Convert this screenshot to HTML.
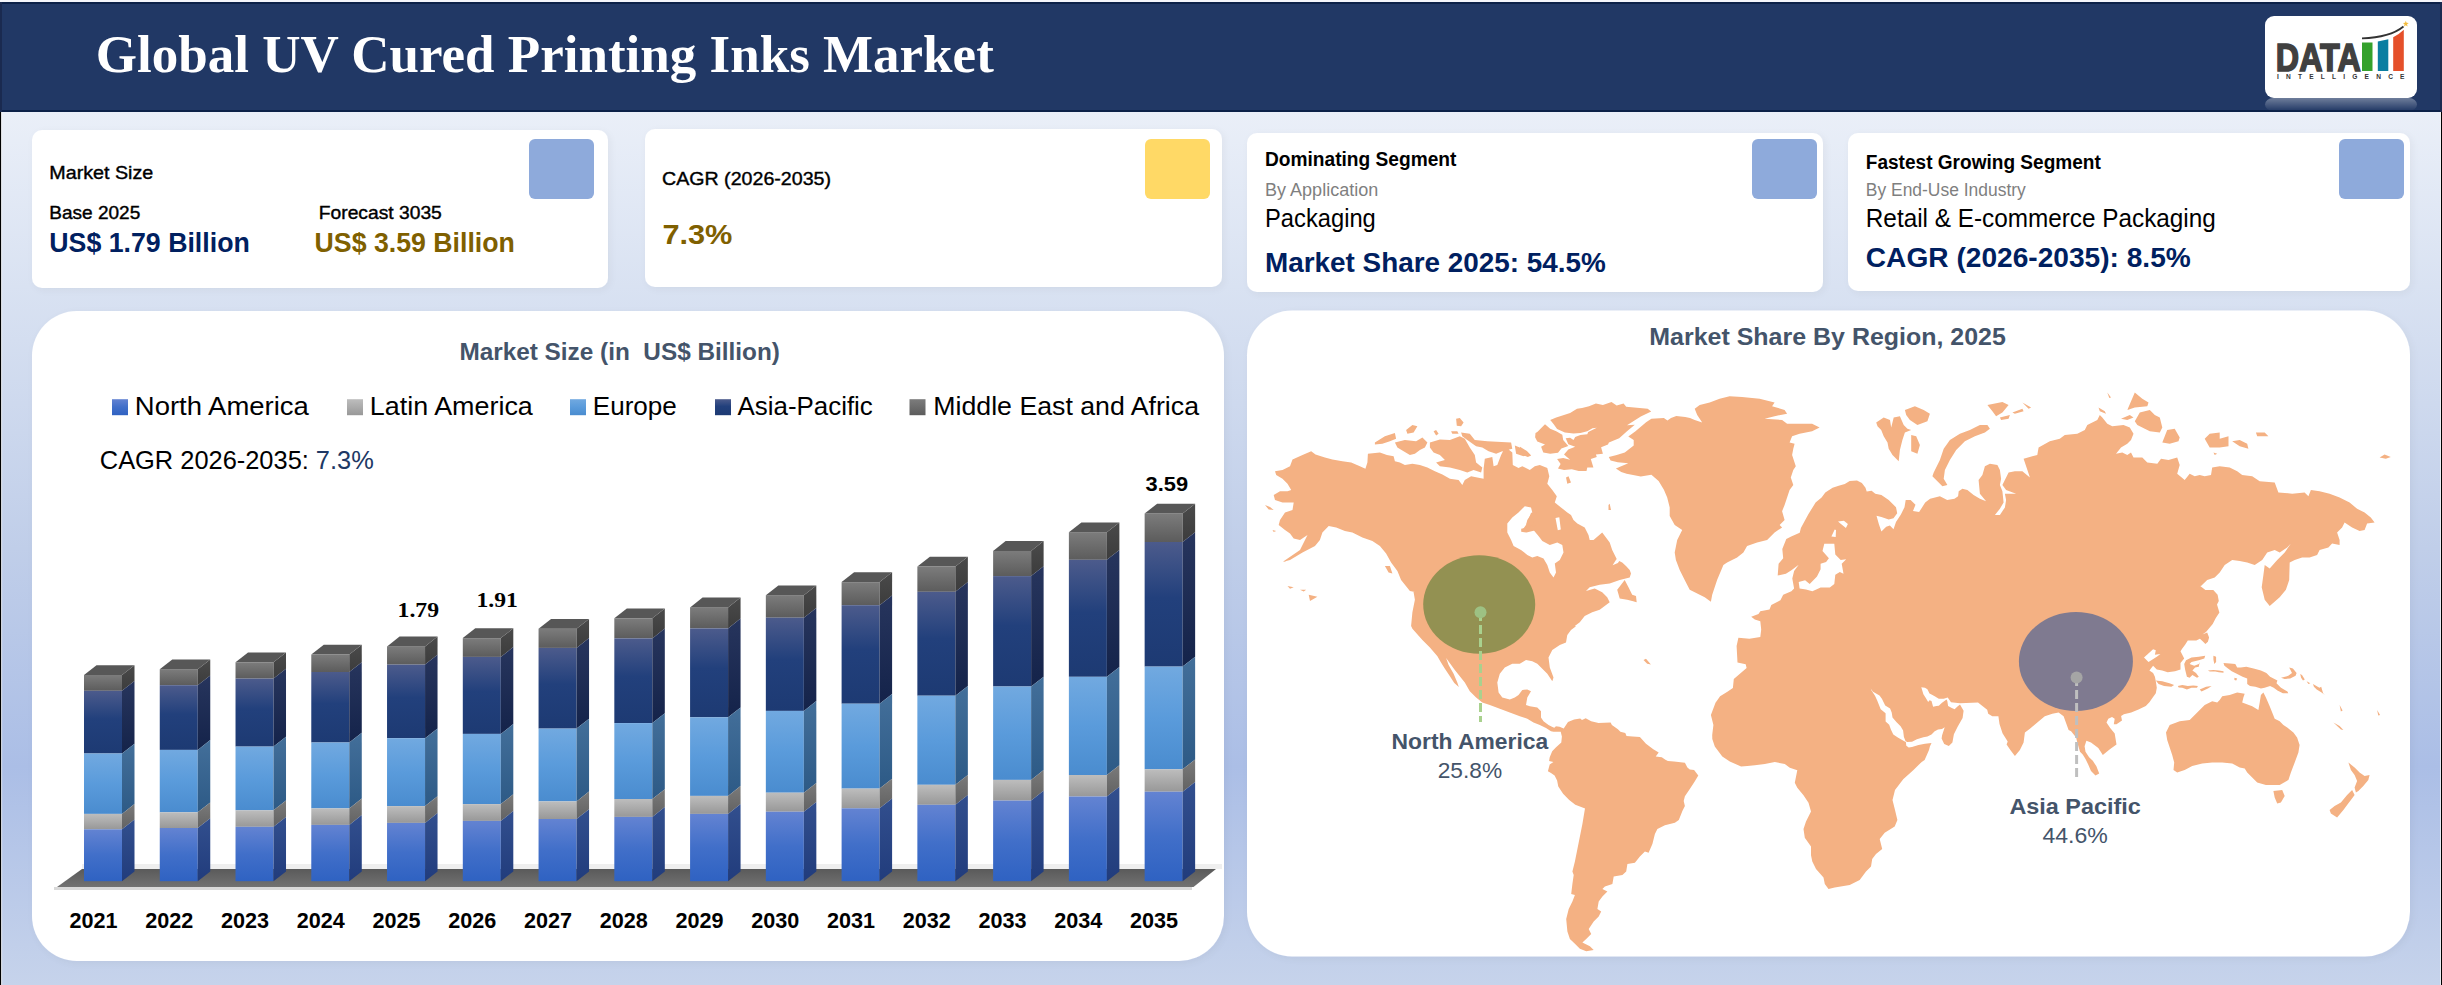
<!DOCTYPE html>
<html><head><meta charset="utf-8"><title>Global UV Cured Printing Inks Market</title>
<style>html,body{margin:0;padding:0;width:2442px;height:985px;overflow:hidden;background:#fff;font-family:"Liberation Sans", sans-serif;}svg{display:block}</style>
</head><body>
<svg width="2442" height="985" viewBox="0 0 2442 985"><defs>
<linearGradient id="bg" gradientUnits="userSpaceOnUse" x1="0" y1="112" x2="0" y2="985">
  <stop offset="0" stop-color="#eaeff8"/>
  <stop offset="0.2" stop-color="#d9e2f2"/>
  <stop offset="0.5" stop-color="#c0cee9"/>
  <stop offset="0.75" stop-color="#abbee6"/>
  <stop offset="1" stop-color="#c6d3eb"/>
</linearGradient>
<filter id="sh" x="-5%" y="-5%" width="110%" height="115%">
  <feGaussianBlur in="SourceAlpha" stdDeviation="4"/>
  <feOffset dx="2" dy="2" result="b"/>
  <feComponentTransfer><feFuncA type="linear" slope="0.05"/></feComponentTransfer>
  <feMerge><feMergeNode/><feMergeNode in="SourceGraphic"/></feMerge>
</filter>
<linearGradient id="refl" x1="0" y1="0" x2="0" y2="1">
  <stop offset="0" stop-color="#ffffff" stop-opacity="0.35"/>
  <stop offset="1" stop-color="#ffffff" stop-opacity="0"/>
</linearGradient>
<linearGradient id="gNA" x1="0" y1="0" x2="0" y2="1"><stop offset="0" stop-color="#6383d2"/><stop offset="0.5" stop-color="#416fc9"/><stop offset="1" stop-color="#2f62c2"/></linearGradient>
<linearGradient id="gLA" x1="0" y1="0" x2="0" y2="1"><stop offset="0" stop-color="#bdbdbd"/><stop offset="1" stop-color="#989898"/></linearGradient>
<linearGradient id="gEU" x1="0" y1="0" x2="0" y2="1"><stop offset="0" stop-color="#71a9e0"/><stop offset="0.5" stop-color="#5a9bdb"/><stop offset="1" stop-color="#4a8ccf"/></linearGradient>
<linearGradient id="gAP" x1="0" y1="0" x2="0" y2="1"><stop offset="0" stop-color="#4c5b8c"/><stop offset="0.45" stop-color="#22407c"/><stop offset="1" stop-color="#1d3a73"/></linearGradient>
<linearGradient id="gME" x1="0" y1="0" x2="0" y2="1"><stop offset="0" stop-color="#7c7c7c"/><stop offset="1" stop-color="#5c5c5c"/></linearGradient>
<linearGradient id="sNA" x1="0" y1="0" x2="0" y2="1"><stop offset="0" stop-color="#324f8e"/><stop offset="1" stop-color="#213c7c"/></linearGradient>
<linearGradient id="sLA" x1="0" y1="0" x2="0" y2="1"><stop offset="0" stop-color="#7a7a7a"/><stop offset="1" stop-color="#626262"/></linearGradient>
<linearGradient id="sEU" x1="0" y1="0" x2="0" y2="1"><stop offset="0" stop-color="#436f9a"/><stop offset="1" stop-color="#2d5a86"/></linearGradient>
<linearGradient id="sAP" x1="0" y1="0" x2="0" y2="1"><stop offset="0" stop-color="#27355d"/><stop offset="1" stop-color="#14234a"/></linearGradient>
<linearGradient id="sME" x1="0" y1="0" x2="0" y2="1"><stop offset="0" stop-color="#4a4a4a"/><stop offset="1" stop-color="#3c3c3c"/></linearGradient>
<linearGradient id="floor" x1="0" y1="0" x2="0" y2="1"><stop offset="0" stop-color="#5a5a5a"/><stop offset="1" stop-color="#727272"/></linearGradient>
</defs>
<rect x="0" y="0" width="2442" height="985" fill="url(#bg)"/>
<rect x="0" y="112" width="1.3" height="873" fill="#000"/>
<rect x="1.3" y="112" width="0.8" height="873" fill="#fff" opacity="0.9"/>
<rect x="2440.9" y="112" width="1.1" height="873" fill="#000"/>
<rect x="2440.1" y="112" width="0.8" height="873" fill="#fff" opacity="0.9"/>
<rect x="0" y="0" width="2442" height="2" fill="#f4f5fa"/>
<rect x="0" y="2" width="2442" height="110" fill="#213865"/>
<rect x="0" y="2" width="2442" height="2" fill="#0c2148"/>
<rect x="0" y="110" width="2442" height="2" fill="#0c2148"/>
<rect x="0" y="2" width="2" height="110" fill="#1a2a50"/>
<rect x="2440" y="2" width="2" height="110" fill="#1a2a50"/>
<text x="95.8" y="72" font-family='"Liberation Serif", serif' font-size="53" font-weight="bold" fill="#ffffff" textLength="898.0" lengthAdjust="spacingAndGlyphs">Global UV Cured Printing Inks Market</text>
<rect x="2265" y="98" width="152" height="13" rx="8" fill="url(#refl)"/>
<rect x="2265" y="16" width="152" height="82" rx="9" fill="#ffffff"/>
<text x="2275.8" y="70.8" font-family='"Liberation Sans", sans-serif' font-size="39.5" font-weight="bold" fill="#404040" textLength="85.0" lengthAdjust="spacingAndGlyphs" stroke="#404040" stroke-width="1.6">DATA</text>
<rect x="2362" y="42.5" width="10.5" height="28.5" fill="#34a12c"/>
<path d="M2377.8 41.5 L2388.3 39.2 L2388.3 71 L2377.8 71Z" fill="#0a7ea1"/>
<path d="M2393.2 37.2 Q2399 34.5 2403.8 29.8 L2403.8 71 L2393.2 71Z" fill="#e5502a"/>
<path d="M2362 38.3 Q2390 37.5 2403.5 26.5" stroke="#333" stroke-width="1.8" fill="none"/>
<polygon points="2405.80,20.80 2406.56,22.85 2408.75,22.94 2407.04,24.30 2407.62,26.41 2405.80,25.20 2403.98,26.41 2404.56,24.30 2402.85,22.94 2405.04,22.85" fill="#f4bc3c"/>
<text x="2277" y="79.2" font-family='"Liberation Sans", sans-serif' font-size="6.6" font-weight="bold" fill="#333" textLength="127.5" lengthAdjust="spacing">INTELLIGENCE</text>
<rect x="32" y="130" width="576" height="158" rx="10" fill="#ffffff" filter="url(#sh)"/>
<rect x="645" y="129" width="577" height="158" rx="10" fill="#ffffff" filter="url(#sh)"/>
<rect x="1247" y="133" width="576" height="159" rx="10" fill="#ffffff" filter="url(#sh)"/>
<rect x="1848" y="133" width="562" height="158" rx="10" fill="#ffffff" filter="url(#sh)"/>
<rect x="529" y="139" width="65" height="60" rx="6" fill="#8eaadb"/>
<rect x="1145" y="139" width="65" height="60" rx="6" fill="#ffd966"/>
<rect x="1752" y="139" width="65" height="60" rx="6" fill="#8eaadb"/>
<rect x="2339" y="139" width="65" height="60" rx="6" fill="#8eaadb"/>
<text x="49.3" y="178.6" font-family='"Liberation Sans", sans-serif' font-size="18.5" font-weight="normal" fill="#000" textLength="104.0" lengthAdjust="spacingAndGlyphs" stroke="#000" stroke-width="0.4">Market Size</text>
<text x="49.3" y="219.2" font-family='"Liberation Sans", sans-serif' font-size="18.5" font-weight="normal" fill="#000" textLength="91.0" lengthAdjust="spacingAndGlyphs" stroke="#000" stroke-width="0.4">Base 2025</text>
<text x="318.8" y="219.2" font-family='"Liberation Sans", sans-serif' font-size="18.5" font-weight="normal" fill="#000" textLength="123.0" lengthAdjust="spacingAndGlyphs" stroke="#000" stroke-width="0.4">Forecast 3035</text>
<text x="49.3" y="252" font-family='"Liberation Sans", sans-serif' font-size="27" font-weight="bold" fill="#002060" textLength="200.5" lengthAdjust="spacingAndGlyphs">US$ 1.79 Billion</text>
<text x="314.6" y="252" font-family='"Liberation Sans", sans-serif' font-size="27" font-weight="bold" fill="#7f6000" textLength="200.3" lengthAdjust="spacingAndGlyphs">US$ 3.59 Billion</text>
<text x="662.0" y="184.9" font-family='"Liberation Sans", sans-serif' font-size="19" font-weight="normal" fill="#000" textLength="169.0" lengthAdjust="spacingAndGlyphs" stroke="#000" stroke-width="0.4">CAGR (2026-2035)</text>
<text x="662.4" y="244" font-family='"Liberation Sans", sans-serif' font-size="27" font-weight="bold" fill="#7f6000" textLength="70.0" lengthAdjust="spacingAndGlyphs">7.3%</text>
<text x="1265.0" y="166.2" font-family='"Liberation Sans", sans-serif' font-size="20" font-weight="bold" fill="#000" textLength="191.4" lengthAdjust="spacingAndGlyphs">Dominating Segment</text>
<text x="1265.0" y="196.2" font-family='"Liberation Sans", sans-serif' font-size="17.5" font-weight="normal" fill="#7f7f7f" textLength="113.3" lengthAdjust="spacingAndGlyphs">By Application</text>
<text x="1265.0" y="227" font-family='"Liberation Sans", sans-serif' font-size="26" font-weight="normal" fill="#000" textLength="110.8" lengthAdjust="spacingAndGlyphs">Packaging</text>
<text x="1265.0" y="272" font-family='"Liberation Sans", sans-serif' font-size="27" font-weight="bold" fill="#002060" textLength="340.8" lengthAdjust="spacingAndGlyphs">Market Share 2025: 54.5%</text>
<text x="1865.8" y="169.2" font-family='"Liberation Sans", sans-serif' font-size="20" font-weight="bold" fill="#000" textLength="235.0" lengthAdjust="spacingAndGlyphs">Fastest Growing Segment</text>
<text x="1865.8" y="196.2" font-family='"Liberation Sans", sans-serif' font-size="17.5" font-weight="normal" fill="#7f7f7f" textLength="160.0" lengthAdjust="spacingAndGlyphs">By End-Use Industry</text>
<text x="1865.8" y="227" font-family='"Liberation Sans", sans-serif' font-size="26" font-weight="normal" fill="#000" textLength="350.0" lengthAdjust="spacingAndGlyphs">Retail &amp; E-commerce Packaging</text>
<text x="1865.8" y="267" font-family='"Liberation Sans", sans-serif' font-size="27" font-weight="bold" fill="#002060" textLength="325.0" lengthAdjust="spacingAndGlyphs">CAGR (2026-2035): 8.5%</text>
<rect x="32" y="311" width="1192" height="650" rx="45" fill="#ffffff" filter="url(#sh)"/>
<text x="459.4" y="359.9" font-family='"Liberation Sans", sans-serif' font-size="24.3" font-weight="bold" fill="#44546a" textLength="320.5" lengthAdjust="spacingAndGlyphs" xml:space="preserve">Market Size (in  US$ Billion)</text>
<rect x="112" y="399.2" width="16" height="16" fill="url(#gNA)"/>
<text x="134.8" y="415" font-family='"Liberation Sans", sans-serif' font-size="25" font-weight="normal" fill="#000" textLength="174.0" lengthAdjust="spacingAndGlyphs">North America</text>
<rect x="347" y="399.2" width="16" height="16" fill="url(#gLA)"/>
<text x="369.8" y="415" font-family='"Liberation Sans", sans-serif' font-size="25" font-weight="normal" fill="#000" textLength="163.0" lengthAdjust="spacingAndGlyphs">Latin America</text>
<rect x="570" y="399.2" width="16" height="16" fill="url(#gEU)"/>
<text x="592.8" y="415" font-family='"Liberation Sans", sans-serif' font-size="25" font-weight="normal" fill="#000" textLength="84.0" lengthAdjust="spacingAndGlyphs">Europe</text>
<rect x="715" y="399.2" width="16" height="16" fill="url(#gAP)"/>
<text x="737.5" y="415" font-family='"Liberation Sans", sans-serif' font-size="25" font-weight="normal" fill="#000" textLength="135.3" lengthAdjust="spacingAndGlyphs">Asia-Pacific</text>
<rect x="909.5" y="399.2" width="16" height="16" fill="url(#gME)"/>
<text x="933.3" y="415" font-family='"Liberation Sans", sans-serif' font-size="25" font-weight="normal" fill="#000" textLength="265.7" lengthAdjust="spacingAndGlyphs">Middle East and Africa</text>
<text x="99.8" y="469" font-family='"Liberation Sans", sans-serif' font-size="25" font-weight="normal" fill="#000" textLength="274.0" lengthAdjust="spacingAndGlyphs">CAGR 2026-2035: <tspan fill="#203864">7.3%</tspan></text>
<rect x="82" y="864" width="1140" height="5" fill="#efefef"/>
<path d="M54 887 L1192 887 L1192 890 L54 890Z" fill="#d9d9d9"/>
<path d="M57 887 L82 869 L1216 869 L1193.5 887Z" fill="url(#floor)"/>
<rect x="84.0" y="675" width="38" height="15.8" fill="url(#gME)"/>
<path d="M122.0 675 L134.5 665.2 L134.5 681.0 L122.0 690.8Z" fill="url(#sME)"/>
<rect x="84.0" y="690.8" width="38" height="62.7" fill="url(#gAP)"/>
<path d="M122.0 690.8 L134.5 681.0 L134.5 743.7 L122.0 753.5Z" fill="url(#sAP)"/>
<rect x="84.0" y="753.5" width="38" height="60.4" fill="url(#gEU)"/>
<path d="M122.0 753.5 L134.5 743.7 L134.5 804.1 L122.0 813.9Z" fill="url(#sEU)"/>
<rect x="84.0" y="813.9" width="38" height="15.4" fill="url(#gLA)"/>
<path d="M122.0 813.9 L134.5 804.1 L134.5 819.5 L122.0 829.3Z" fill="url(#sLA)"/>
<rect x="84.0" y="829.3" width="38" height="51.9" fill="url(#gNA)"/>
<path d="M122.0 829.3 L134.5 819.5 L134.5 871.4 L122.0 881.2Z" fill="url(#sNA)"/>
<path d="M84.0 675 L96.5 665.2 L134.5 665.2 L122.0 675Z" fill="#575757"/>
<text x="93.4" y="927.6" font-family='"Liberation Sans", sans-serif' font-size="21.6" font-weight="bold" fill="#000" text-anchor="middle">2021</text>
<rect x="159.76" y="669.2" width="38" height="16.0" fill="url(#gME)"/>
<path d="M197.76 669.2 L210.26 659.4 L210.26 675.4 L197.76 685.2Z" fill="url(#sME)"/>
<rect x="159.76" y="685.2" width="38" height="64.7" fill="url(#gAP)"/>
<path d="M197.76 685.2 L210.26 675.4 L210.26 740.1 L197.76 749.9Z" fill="url(#sAP)"/>
<rect x="159.76" y="749.9" width="38" height="62.4" fill="url(#gEU)"/>
<path d="M197.76 749.9 L210.26 740.1 L210.26 802.5 L197.76 812.3Z" fill="url(#sEU)"/>
<rect x="159.76" y="812.3" width="38" height="15.7" fill="url(#gLA)"/>
<path d="M197.76 812.3 L210.26 802.5 L210.26 818.2 L197.76 828Z" fill="url(#sLA)"/>
<rect x="159.76" y="828" width="38" height="53.2" fill="url(#gNA)"/>
<path d="M197.76 828 L210.26 818.2 L210.26 871.4 L197.76 881.2Z" fill="url(#sNA)"/>
<path d="M159.76 669.2 L172.26 659.4 L210.26 659.4 L197.76 669.2Z" fill="#575757"/>
<text x="169.16" y="927.6" font-family='"Liberation Sans", sans-serif' font-size="21.6" font-weight="bold" fill="#000" text-anchor="middle">2022</text>
<rect x="235.52" y="662.3" width="38" height="16.3" fill="url(#gME)"/>
<path d="M273.52 662.3 L286.02 652.5 L286.02 668.8 L273.52 678.6Z" fill="url(#sME)"/>
<rect x="235.52" y="678.6" width="38" height="68.0" fill="url(#gAP)"/>
<path d="M273.52 678.6 L286.02 668.8 L286.02 736.8 L273.52 746.6Z" fill="url(#sAP)"/>
<rect x="235.52" y="746.6" width="38" height="63.7" fill="url(#gEU)"/>
<path d="M273.52 746.6 L286.02 736.8 L286.02 800.5 L273.52 810.3Z" fill="url(#sEU)"/>
<rect x="235.52" y="810.3" width="38" height="16.5" fill="url(#gLA)"/>
<path d="M273.52 810.3 L286.02 800.5 L286.02 817.0 L273.52 826.8Z" fill="url(#sLA)"/>
<rect x="235.52" y="826.8" width="38" height="54.4" fill="url(#gNA)"/>
<path d="M273.52 826.8 L286.02 817.0 L286.02 871.4 L273.52 881.2Z" fill="url(#sNA)"/>
<path d="M235.52 662.3 L248.02 652.5 L286.02 652.5 L273.52 662.3Z" fill="#575757"/>
<text x="244.92" y="927.6" font-family='"Liberation Sans", sans-serif' font-size="21.6" font-weight="bold" fill="#000" text-anchor="middle">2023</text>
<rect x="311.28" y="654.6" width="38" height="17.4" fill="url(#gME)"/>
<path d="M349.28 654.6 L361.78 644.8 L361.78 662.2 L349.28 672Z" fill="url(#sME)"/>
<rect x="311.28" y="672" width="38" height="70.5" fill="url(#gAP)"/>
<path d="M349.28 672 L361.78 662.2 L361.78 732.7 L349.28 742.5Z" fill="url(#sAP)"/>
<rect x="311.28" y="742.5" width="38" height="65.9" fill="url(#gEU)"/>
<path d="M349.28 742.5 L361.78 732.7 L361.78 798.6 L349.28 808.4Z" fill="url(#sEU)"/>
<rect x="311.28" y="808.4" width="38" height="16.5" fill="url(#gLA)"/>
<path d="M349.28 808.4 L361.78 798.6 L361.78 815.1 L349.28 824.9Z" fill="url(#sLA)"/>
<rect x="311.28" y="824.9" width="38" height="56.3" fill="url(#gNA)"/>
<path d="M349.28 824.9 L361.78 815.1 L361.78 871.4 L349.28 881.2Z" fill="url(#sNA)"/>
<path d="M311.28 654.6 L323.78 644.8 L361.78 644.8 L349.28 654.6Z" fill="#575757"/>
<text x="320.68" y="927.6" font-family='"Liberation Sans", sans-serif' font-size="21.6" font-weight="bold" fill="#000" text-anchor="middle">2024</text>
<rect x="387.04" y="646.4" width="38" height="18.2" fill="url(#gME)"/>
<path d="M425.04 646.4 L437.54 636.6 L437.54 654.8 L425.04 664.6Z" fill="url(#sME)"/>
<rect x="387.04" y="664.6" width="38" height="73.6" fill="url(#gAP)"/>
<path d="M425.04 664.6 L437.54 654.8 L437.54 728.4 L425.04 738.2Z" fill="url(#sAP)"/>
<rect x="387.04" y="738.2" width="38" height="67.9" fill="url(#gEU)"/>
<path d="M425.04 738.2 L437.54 728.4 L437.54 796.3 L425.04 806.1Z" fill="url(#sEU)"/>
<rect x="387.04" y="806.1" width="38" height="16.8" fill="url(#gLA)"/>
<path d="M425.04 806.1 L437.54 796.3 L437.54 813.1 L425.04 822.9Z" fill="url(#sLA)"/>
<rect x="387.04" y="822.9" width="38" height="58.3" fill="url(#gNA)"/>
<path d="M425.04 822.9 L437.54 813.1 L437.54 871.4 L425.04 881.2Z" fill="url(#sNA)"/>
<path d="M387.04 646.4 L399.54 636.6 L437.54 636.6 L425.04 646.4Z" fill="#575757"/>
<text x="396.44" y="927.6" font-family='"Liberation Sans", sans-serif' font-size="21.6" font-weight="bold" fill="#000" text-anchor="middle">2025</text>
<rect x="462.8" y="638.1" width="38" height="18.8" fill="url(#gME)"/>
<path d="M500.8 638.1 L513.3 628.3 L513.3 647.1 L500.8 656.9Z" fill="url(#sME)"/>
<rect x="462.8" y="656.9" width="38" height="77.0" fill="url(#gAP)"/>
<path d="M500.8 656.9 L513.3 647.1 L513.3 724.1 L500.8 733.9Z" fill="url(#sAP)"/>
<rect x="462.8" y="733.9" width="38" height="70.2" fill="url(#gEU)"/>
<path d="M500.8 733.9 L513.3 724.1 L513.3 794.3 L500.8 804.1Z" fill="url(#sEU)"/>
<rect x="462.8" y="804.1" width="38" height="16.8" fill="url(#gLA)"/>
<path d="M500.8 804.1 L513.3 794.3 L513.3 811.1 L500.8 820.9Z" fill="url(#sLA)"/>
<rect x="462.8" y="820.9" width="38" height="60.3" fill="url(#gNA)"/>
<path d="M500.8 820.9 L513.3 811.1 L513.3 871.4 L500.8 881.2Z" fill="url(#sNA)"/>
<path d="M462.8 638.1 L475.3 628.3 L513.3 628.3 L500.8 638.1Z" fill="#575757"/>
<text x="472.2" y="927.6" font-family='"Liberation Sans", sans-serif' font-size="21.6" font-weight="bold" fill="#000" text-anchor="middle">2026</text>
<rect x="538.56" y="628.7" width="38" height="19.2" fill="url(#gME)"/>
<path d="M576.56 628.7 L589.06 618.9 L589.06 638.1 L576.56 647.9Z" fill="url(#sME)"/>
<rect x="538.56" y="647.9" width="38" height="80.7" fill="url(#gAP)"/>
<path d="M576.56 647.9 L589.06 638.1 L589.06 718.8 L576.56 728.6Z" fill="url(#sAP)"/>
<rect x="538.56" y="728.6" width="38" height="72.8" fill="url(#gEU)"/>
<path d="M576.56 728.6 L589.06 718.8 L589.06 791.6 L576.56 801.4Z" fill="url(#sEU)"/>
<rect x="538.56" y="801.4" width="38" height="17.6" fill="url(#gLA)"/>
<path d="M576.56 801.4 L589.06 791.6 L589.06 809.2 L576.56 819Z" fill="url(#sLA)"/>
<rect x="538.56" y="819" width="38" height="62.2" fill="url(#gNA)"/>
<path d="M576.56 819 L589.06 809.2 L589.06 871.4 L576.56 881.2Z" fill="url(#sNA)"/>
<path d="M538.56 628.7 L551.06 618.9 L589.06 618.9 L576.56 628.7Z" fill="#575757"/>
<text x="547.96" y="927.6" font-family='"Liberation Sans", sans-serif' font-size="21.6" font-weight="bold" fill="#000" text-anchor="middle">2027</text>
<rect x="614.32" y="618.3" width="38" height="20.1" fill="url(#gME)"/>
<path d="M652.32 618.3 L664.82 608.5 L664.82 628.6 L652.32 638.4Z" fill="url(#sME)"/>
<rect x="614.32" y="638.4" width="38" height="84.7" fill="url(#gAP)"/>
<path d="M652.32 638.4 L664.82 628.6 L664.82 713.3 L652.32 723.1Z" fill="url(#sAP)"/>
<rect x="614.32" y="723.1" width="38" height="75.9" fill="url(#gEU)"/>
<path d="M652.32 723.1 L664.82 713.3 L664.82 789.2 L652.32 799Z" fill="url(#sEU)"/>
<rect x="614.32" y="799" width="38" height="17.9" fill="url(#gLA)"/>
<path d="M652.32 799 L664.82 789.2 L664.82 807.1 L652.32 816.9Z" fill="url(#sLA)"/>
<rect x="614.32" y="816.9" width="38" height="64.3" fill="url(#gNA)"/>
<path d="M652.32 816.9 L664.82 807.1 L664.82 871.4 L652.32 881.2Z" fill="url(#sNA)"/>
<path d="M614.32 618.3 L626.82 608.5 L664.82 608.5 L652.32 618.3Z" fill="#575757"/>
<text x="623.72" y="927.6" font-family='"Liberation Sans", sans-serif' font-size="21.6" font-weight="bold" fill="#000" text-anchor="middle">2028</text>
<rect x="690.08" y="607.4" width="38" height="21.0" fill="url(#gME)"/>
<path d="M728.08 607.4 L740.58 597.6 L740.58 618.6 L728.08 628.4Z" fill="url(#sME)"/>
<rect x="690.08" y="628.4" width="38" height="88.9" fill="url(#gAP)"/>
<path d="M728.08 628.4 L740.58 618.6 L740.58 707.5 L728.08 717.3Z" fill="url(#sAP)"/>
<rect x="690.08" y="717.3" width="38" height="78.6" fill="url(#gEU)"/>
<path d="M728.08 717.3 L740.58 707.5 L740.58 786.1 L728.08 795.9Z" fill="url(#sEU)"/>
<rect x="690.08" y="795.9" width="38" height="18.0" fill="url(#gLA)"/>
<path d="M728.08 795.9 L740.58 786.1 L740.58 804.1 L728.08 813.9Z" fill="url(#sLA)"/>
<rect x="690.08" y="813.9" width="38" height="67.3" fill="url(#gNA)"/>
<path d="M728.08 813.9 L740.58 804.1 L740.58 871.4 L728.08 881.2Z" fill="url(#sNA)"/>
<path d="M690.08 607.4 L702.58 597.6 L740.58 597.6 L728.08 607.4Z" fill="#575757"/>
<text x="699.48" y="927.6" font-family='"Liberation Sans", sans-serif' font-size="21.6" font-weight="bold" fill="#000" text-anchor="middle">2029</text>
<rect x="765.84" y="595.2" width="38" height="22.5" fill="url(#gME)"/>
<path d="M803.84 595.2 L816.34 585.4 L816.34 607.9 L803.84 617.7Z" fill="url(#sME)"/>
<rect x="765.84" y="617.7" width="38" height="93.2" fill="url(#gAP)"/>
<path d="M803.84 617.7 L816.34 607.9 L816.34 701.1 L803.84 710.9Z" fill="url(#sAP)"/>
<rect x="765.84" y="710.9" width="38" height="81.8" fill="url(#gEU)"/>
<path d="M803.84 710.9 L816.34 701.1 L816.34 782.9 L803.84 792.7Z" fill="url(#sEU)"/>
<rect x="765.84" y="792.7" width="38" height="19.0" fill="url(#gLA)"/>
<path d="M803.84 792.7 L816.34 782.9 L816.34 801.9 L803.84 811.7Z" fill="url(#sLA)"/>
<rect x="765.84" y="811.7" width="38" height="69.5" fill="url(#gNA)"/>
<path d="M803.84 811.7 L816.34 801.9 L816.34 871.4 L803.84 881.2Z" fill="url(#sNA)"/>
<path d="M765.84 595.2 L778.34 585.4 L816.34 585.4 L803.84 595.2Z" fill="#575757"/>
<text x="775.24" y="927.6" font-family='"Liberation Sans", sans-serif' font-size="21.6" font-weight="bold" fill="#000" text-anchor="middle">2030</text>
<rect x="841.6" y="582.1" width="38" height="23.1" fill="url(#gME)"/>
<path d="M879.6 582.1 L892.1 572.3 L892.1 595.4 L879.6 605.2Z" fill="url(#sME)"/>
<rect x="841.6" y="605.2" width="38" height="98.5" fill="url(#gAP)"/>
<path d="M879.6 605.2 L892.1 595.4 L892.1 693.9 L879.6 703.7Z" fill="url(#sAP)"/>
<rect x="841.6" y="703.7" width="38" height="84.9" fill="url(#gEU)"/>
<path d="M879.6 703.7 L892.1 693.9 L892.1 778.8 L879.6 788.6Z" fill="url(#sEU)"/>
<rect x="841.6" y="788.6" width="38" height="19.7" fill="url(#gLA)"/>
<path d="M879.6 788.6 L892.1 778.8 L892.1 798.5 L879.6 808.3Z" fill="url(#sLA)"/>
<rect x="841.6" y="808.3" width="38" height="72.9" fill="url(#gNA)"/>
<path d="M879.6 808.3 L892.1 798.5 L892.1 871.4 L879.6 881.2Z" fill="url(#sNA)"/>
<path d="M841.6 582.1 L854.1 572.3 L892.1 572.3 L879.6 582.1Z" fill="#575757"/>
<text x="851.0" y="927.6" font-family='"Liberation Sans", sans-serif' font-size="21.6" font-weight="bold" fill="#000" text-anchor="middle">2031</text>
<rect x="917.36" y="566.6" width="38" height="25.2" fill="url(#gME)"/>
<path d="M955.36 566.6 L967.86 556.8 L967.86 582.0 L955.36 591.8Z" fill="url(#sME)"/>
<rect x="917.36" y="591.8" width="38" height="103.9" fill="url(#gAP)"/>
<path d="M955.36 591.8 L967.86 582.0 L967.86 685.9 L955.36 695.7Z" fill="url(#sAP)"/>
<rect x="917.36" y="695.7" width="38" height="89.1" fill="url(#gEU)"/>
<path d="M955.36 695.7 L967.86 685.9 L967.86 775.0 L955.36 784.8Z" fill="url(#sEU)"/>
<rect x="917.36" y="784.8" width="38" height="20.0" fill="url(#gLA)"/>
<path d="M955.36 784.8 L967.86 775.0 L967.86 795.0 L955.36 804.8Z" fill="url(#sLA)"/>
<rect x="917.36" y="804.8" width="38" height="76.4" fill="url(#gNA)"/>
<path d="M955.36 804.8 L967.86 795.0 L967.86 871.4 L955.36 881.2Z" fill="url(#sNA)"/>
<path d="M917.36 566.6 L929.86 556.8 L967.86 556.8 L955.36 566.6Z" fill="#575757"/>
<text x="926.76" y="927.6" font-family='"Liberation Sans", sans-serif' font-size="21.6" font-weight="bold" fill="#000" text-anchor="middle">2032</text>
<rect x="993.12" y="550.9" width="38" height="25.2" fill="url(#gME)"/>
<path d="M1031.12 550.9 L1043.62 541.1 L1043.62 566.3 L1031.12 576.1Z" fill="url(#sME)"/>
<rect x="993.12" y="576.1" width="38" height="110.4" fill="url(#gAP)"/>
<path d="M1031.12 576.1 L1043.62 566.3 L1043.62 676.7 L1031.12 686.5Z" fill="url(#sAP)"/>
<rect x="993.12" y="686.5" width="38" height="93.4" fill="url(#gEU)"/>
<path d="M1031.12 686.5 L1043.62 676.7 L1043.62 770.1 L1031.12 779.9Z" fill="url(#sEU)"/>
<rect x="993.12" y="779.9" width="38" height="20.7" fill="url(#gLA)"/>
<path d="M1031.12 779.9 L1043.62 770.1 L1043.62 790.8 L1031.12 800.6Z" fill="url(#sLA)"/>
<rect x="993.12" y="800.6" width="38" height="80.6" fill="url(#gNA)"/>
<path d="M1031.12 800.6 L1043.62 790.8 L1043.62 871.4 L1031.12 881.2Z" fill="url(#sNA)"/>
<path d="M993.12 550.9 L1005.62 541.1 L1043.62 541.1 L1031.12 550.9Z" fill="#575757"/>
<text x="1002.52" y="927.6" font-family='"Liberation Sans", sans-serif' font-size="21.6" font-weight="bold" fill="#000" text-anchor="middle">2033</text>
<rect x="1068.88" y="532.2" width="38" height="27.6" fill="url(#gME)"/>
<path d="M1106.88 532.2 L1119.38 522.4 L1119.38 550.0 L1106.88 559.8Z" fill="url(#sME)"/>
<rect x="1068.88" y="559.8" width="38" height="117.0" fill="url(#gAP)"/>
<path d="M1106.88 559.8 L1119.38 550.0 L1119.38 667.0 L1106.88 676.8Z" fill="url(#sAP)"/>
<rect x="1068.88" y="676.8" width="38" height="98.2" fill="url(#gEU)"/>
<path d="M1106.88 676.8 L1119.38 667.0 L1119.38 765.2 L1106.88 775Z" fill="url(#sEU)"/>
<rect x="1068.88" y="775" width="38" height="21.5" fill="url(#gLA)"/>
<path d="M1106.88 775 L1119.38 765.2 L1119.38 786.7 L1106.88 796.5Z" fill="url(#sLA)"/>
<rect x="1068.88" y="796.5" width="38" height="84.7" fill="url(#gNA)"/>
<path d="M1106.88 796.5 L1119.38 786.7 L1119.38 871.4 L1106.88 881.2Z" fill="url(#sNA)"/>
<path d="M1068.88 532.2 L1081.38 522.4 L1119.38 522.4 L1106.88 532.2Z" fill="#575757"/>
<text x="1078.28" y="927.6" font-family='"Liberation Sans", sans-serif' font-size="21.6" font-weight="bold" fill="#000" text-anchor="middle">2034</text>
<rect x="1144.64" y="513.5" width="38" height="28.5" fill="url(#gME)"/>
<path d="M1182.64 513.5 L1195.14 503.7 L1195.14 532.2 L1182.64 542Z" fill="url(#sME)"/>
<rect x="1144.64" y="542" width="38" height="124.6" fill="url(#gAP)"/>
<path d="M1182.64 542 L1195.14 532.2 L1195.14 656.8 L1182.64 666.6Z" fill="url(#sAP)"/>
<rect x="1144.64" y="666.6" width="38" height="102.7" fill="url(#gEU)"/>
<path d="M1182.64 666.6 L1195.14 656.8 L1195.14 759.5 L1182.64 769.3Z" fill="url(#sEU)"/>
<rect x="1144.64" y="769.3" width="38" height="22.4" fill="url(#gLA)"/>
<path d="M1182.64 769.3 L1195.14 759.5 L1195.14 781.9 L1182.64 791.7Z" fill="url(#sLA)"/>
<rect x="1144.64" y="791.7" width="38" height="89.5" fill="url(#gNA)"/>
<path d="M1182.64 791.7 L1195.14 781.9 L1195.14 871.4 L1182.64 881.2Z" fill="url(#sNA)"/>
<path d="M1144.64 513.5 L1157.14 503.7 L1195.14 503.7 L1182.64 513.5Z" fill="#575757"/>
<text x="1154.04" y="927.6" font-family='"Liberation Sans", sans-serif' font-size="21.6" font-weight="bold" fill="#000" text-anchor="middle">2035</text>
<text x="397.5" y="617.2" font-family='"Liberation Serif", serif' font-size="22" font-weight="bold" fill="#000" textLength="41.6" lengthAdjust="spacingAndGlyphs">1.79</text>
<text x="476.4" y="607" font-family='"Liberation Serif", serif' font-size="22" font-weight="bold" fill="#000" textLength="41.4" lengthAdjust="spacingAndGlyphs">1.91</text>
<text x="1145.6" y="491" font-family='"Liberation Sans", sans-serif' font-size="21" font-weight="bold" fill="#000" textLength="42.5" lengthAdjust="spacingAndGlyphs">3.59</text>
<rect x="1247" y="310.5" width="1163" height="646" rx="45" fill="#ffffff" filter="url(#sh)"/>
<text x="1649.3" y="345" font-family='"Liberation Sans", sans-serif' font-size="24.7" font-weight="bold" fill="#44546a" textLength="356.6" lengthAdjust="spacingAndGlyphs">Market Share By Region, 2025</text>
<g fill="#f4b183"><path d="M1275.0,471.2 1282.5,469.9 1290.0,466.2 1292.5,459.4 1302.5,454.9 1311.2,451.2 1315.5,454.4 1324.9,457.4 1332.4,459.4 1342.4,461.2 1351.2,462.4 1359.9,466.2 1365.4,468.7 1367.4,462.4 1367.9,453.7 1379.9,452.4 1386.9,454.9 1393.6,456.2 1394.9,461.2 1399.9,462.4 1404.9,464.9 1412.4,463.7 1419.9,464.9 1427.4,467.4 1434.9,471.2 1442.4,474.4 1449.9,478.7 1458.6,479.9 1462.3,484.9 1464.8,479.9 1471.1,476.2 1477.3,477.4 1483.6,478.7 1483.6,468.7 1484.8,458.7 1492.3,456.9 1493.6,466.2 1497.3,464.9 1501.1,454.9 1503.6,449.9 1508.6,449.4 1512.3,452.4 1512.8,464.9 1518.5,467.9 1522.3,466.2 1529.8,469.9 1534.8,466.2 1539.8,464.9 1547.3,467.9 1549.3,476.2 1547.3,483.7 1552.3,489.9 1556.8,496.2 1554.8,502.4 1561.0,507.4 1567.3,512.4 1571.0,514.9 1573.5,519.9 1577.3,523.6 1584.7,527.4 1588.5,534.9 1589.7,539.9 1593.5,539.9 1602.2,532.4 1609.7,542.4 1612.2,549.9 1614.7,554.9 1617.2,559.9 1622.2,562.4 1626.0,566.1 1629.7,569.9 1631.0,573.6 1629.7,577.4 1619.7,579.9 1609.7,583.6 1599.7,584.8 1589.7,587.3 1586.0,591.1 1594.7,588.6 1602.2,592.3 1607.2,597.3 1609.7,602.3 1604.7,606.1 1599.7,609.8 1592.2,612.3 1584.7,616.1 1579.8,622.3 1574.8,626.1 1576.0,626.2 1571.0,630.0 1567.3,635.0 1566.0,642.5 1559.8,645.0 1552.3,650.0 1548.5,657.5 1549.8,667.5 1553.5,677.5 1552.3,681.2 1547.3,673.7 1542.3,668.7 1537.3,663.7 1532.3,661.2 1526.0,660.0 1519.8,663.7 1512.3,663.7 1504.8,667.5 1499.8,673.7 1497.3,682.5 1498.6,692.4 1502.3,697.4 1509.8,699.4 1514.8,697.4 1518.5,694.9 1522.3,689.9 1527.3,689.4 1531.0,691.2 1527.3,697.4 1526.0,704.9 1529.8,706.2 1537.3,707.4 1541.0,711.2 1541.0,717.4 1543.5,721.2 1548.5,724.9 1553.5,727.4 1559.8,727.9 1561.0,730.4 1553.5,731.7 1551.0,731.2 1546.0,727.9 1539.8,724.9 1533.5,722.4 1527.3,718.7 1519.8,716.2 1509.8,712.4 1499.8,708.7 1489.8,704.9 1482.3,702.4 1476.1,697.4 1469.8,691.2 1464.8,682.5 1454.8,670.0 1446.1,658.0 1448.6,665.0 1453.6,673.7 1457.3,682.5 1458.8,686.9 1454.3,683.0 1449.4,675.5 1444.4,668.0 1440.4,661.5 1437.4,656.2 1429.9,647.5 1422.4,640.0 1412.4,628.7 1411.1,626.0 1411.1,626.1 1412.4,612.3 1414.9,599.8 1413.6,592.3 1407.4,586.1 1401.1,579.9 1397.4,571.1 1391.1,562.4 1386.1,553.6 1379.9,546.1 1372.4,541.1 1362.4,537.4 1352.4,532.4 1344.9,531.1 1336.2,527.4 1328.7,526.1 1322.4,532.4 1319.9,539.9 1315.0,546.1 1302.5,552.4 1290.0,559.9 1282.5,561.9 1300.0,549.9 1307.5,534.9 1300.0,539.9 1293.7,538.6 1290.0,533.6 1285.0,529.9 1278.7,524.9 1280.0,519.9 1285.0,512.4 1292.5,509.9 1293.7,502.4 1282.5,502.4 1275.0,499.9 1273.7,494.9 1280.0,491.2 1287.5,491.2 1291.2,489.9 1287.5,483.7 1282.5,478.7 1276.2,474.9ZM1617.2,589.8 1624.7,579.9 1628.5,587.3 1632.2,594.8 1636.0,596.1 1636.7,602.3 1632.2,601.1 1627.2,599.8 1619.7,598.6ZM1429.9,442.5 1439.9,439.5 1449.9,440.0 1459.8,436.2 1464.8,438.7 1469.8,447.4 1474.8,454.9 1476.1,462.4 1482.3,467.4 1481.1,472.4 1473.6,469.9 1467.3,472.4 1459.8,469.9 1449.9,467.4 1439.9,466.2 1436.1,462.4 1444.9,459.9 1439.9,454.9 1433.6,452.4 1429.9,447.4ZM1394.9,442.5 1404.9,440.0 1416.1,441.2 1422.4,437.5 1427.4,442.5 1424.9,447.4 1419.9,449.9 1414.9,453.7 1409.9,454.9 1403.6,451.2 1397.4,447.4ZM1374.9,442.5 1384.9,436.2 1394.9,433.0 1396.1,438.7 1389.9,441.2 1382.4,443.7 1374.9,444.5ZM1406.1,430.0 1412.4,425.0 1417.4,426.2 1413.6,432.5 1407.4,433.7ZM1433.6,431.2 1436.1,430.0 1438.6,433.7 1436.1,435.5ZM1451.1,431.2 1457.3,431.2 1458.6,433.7 1452.3,433.7ZM1456.1,418.7 1459.8,418.0 1463.6,422.5 1461.1,426.2 1456.8,425.7ZM1461.1,432.5 1469.8,433.7 1474.8,440.0 1487.3,441.2 1511.1,442.5 1512.3,448.7 1502.3,451.2 1496.1,453.7 1488.6,451.2 1482.3,447.4 1476.1,446.2 1467.3,440.0 1462.3,436.2ZM1514.8,445.5 1519.8,447.4 1527.3,453.7 1523.5,456.2 1516.1,453.7ZM1287.5,586.1 1293.7,587.3 1290.0,588.8ZM1300.0,589.8 1306.2,589.8 1303.7,591.6ZM1308.7,594.8 1317.4,596.8 1310.0,601.1ZM1265.0,504.9 1270.0,506.9 1273.7,509.9 1268.7,509.4ZM1272.5,529.9 1276.2,531.1 1273.7,531.9ZM1384.9,566.1 1389.9,566.1 1392.4,573.6 1388.6,572.4ZM1401.1,579.9 1407.4,583.6 1416.1,592.3 1409.9,591.1ZM1566.0,477.4 1568.5,476.2 1571.0,482.4 1567.3,483.7ZM1608.5,504.9 1609.7,503.7 1611.0,509.9 1608.5,509.9ZM1643.5,660.0 1646.0,658.7 1650.9,664.5 1647.2,663.7ZM1552.2,731.7 1555.8,726.2 1559.5,726.8 1563.7,728.6 1568.0,721.9 1574.1,719.5 1580.2,718.5 1582.0,720.1 1585.7,718.3 1591.2,721.3 1598.5,722.9 1610.6,722.5 1611.9,725.0 1617.9,729.2 1620.4,731.7 1625.3,732.9 1626.5,735.9 1632.6,736.5 1639.9,737.1 1646.0,743.8 1653.3,749.3 1658.7,752.4 1655.7,756.6 1661.8,757.2 1665.4,759.7 1667.9,760.9 1674.0,761.5 1684.9,762.7 1687.4,767.6 1689.8,769.4 1694.1,770.0 1698.3,775.5 1694.7,781.6 1689.8,788.9 1684.9,796.2 1683.7,801.1 1684.9,806.0 1682.5,810.8 1678.8,820.0 1674.9,822.7 1664.9,825.2 1657.4,828.9 1654.9,833.9 1652.4,843.9 1648.6,852.7 1644.9,851.4 1639.9,856.4 1634.9,862.7 1627.4,863.9 1626.2,871.4 1622.4,875.1 1613.7,876.4 1612.4,883.9 1604.9,886.4 1602.4,888.9 1607.4,891.4 1602.4,896.4 1598.7,901.4 1597.4,908.9 1601.2,911.4 1598.7,916.4 1593.7,921.4 1588.7,928.9 1591.2,933.9 1586.2,938.9 1582.4,942.6 1589.9,946.3 1593.7,950.1 1586.2,951.3 1579.9,948.8 1574.9,943.8 1569.9,938.9 1567.4,931.4 1566.2,918.9 1568.7,908.9 1572.4,901.4 1574.9,895.1 1571.2,893.9 1572.4,883.9 1573.7,875.1 1572.4,871.4 1574.9,861.4 1577.4,848.9 1579.9,836.4 1582.4,823.9 1584.9,808.9 1585.1,808.4 1575.3,804.7 1569.2,799.9 1563.1,793.8 1558.3,786.5 1557.1,780.4 1554.6,775.5 1551.0,773.1 1547.9,771.2 1549.7,764.5 1553.4,762.1 1549.1,760.9 1549.7,757.2 1552.2,751.2 1555.8,747.5 1561.3,742.6 1561.9,736.5 1560.7,731.7ZM1715.5,702.7 1720.1,696.3 1727.4,691.7 1732.9,688.1 1733.8,678.9 1740.2,673.4 1746.6,667.9 1745.7,664.3 1737.5,662.5 1736.6,646.0 1738.4,637.8 1749.4,638.7 1760.3,636.9 1761.2,629.6 1760.3,621.3 1754.8,619.5 1751.2,616.8 1758.5,614.0 1760.3,611.3 1769.5,609.5 1771.3,604.9 1780.4,600.3 1783.2,594.8 1791.4,591.2 1794.1,588.4 1792.3,578.4 1794.1,571.1 1798.7,564.7 1791.4,570.2 1785.9,573.8 1777.7,575.6 1778.6,563.8 1783.2,558.3 1782.3,549.1 1785.9,540.0 1786.3,538.9 1791.2,536.5 1799.7,532.8 1800.9,528.0 1808.2,514.6 1815.6,502.4 1821.6,497.5 1825.3,492.6 1832.6,487.7 1838.7,485.8 1844.8,484.1 1849.7,480.9 1857.0,480.4 1861.9,482.9 1865.5,487.7 1866.7,491.4 1871.6,490.7 1875.3,493.8 1881.4,495.1 1888.7,499.9 1896.0,507.2 1897.2,513.3 1893.5,518.2 1888.7,519.4 1881.4,517.0 1876.5,515.8 1878.9,524.3 1881.4,531.6 1886.2,526.7 1889.9,525.5 1893.5,529.2 1896.0,521.9 1900.9,514.6 1904.5,507.2 1905.7,499.9 1910.6,499.9 1915.5,504.8 1913.0,510.9 1919.1,512.1 1925.2,502.4 1930.1,498.7 1935.0,497.5 1939.9,496.3 1947.2,499.9 1954.5,498.7 1958.1,496.3 1958.7,491.2 1962.4,488.7 1967.4,489.9 1973.6,494.9 1979.9,498.7 1986.1,501.2 1979.9,493.7 1978.6,479.9 1982.4,474.9 1984.9,466.2 1989.9,463.7 1997.4,464.9 1999.9,469.9 2001.1,478.7 1999.9,484.9 2002.4,491.2 2003.6,502.4 1999.9,508.7 1994.9,514.9 1999.9,514.9 2004.9,507.4 2006.1,499.9 2004.9,493.7 2016.1,493.7 2006.1,489.9 2002.4,484.9 2006.1,477.4 2008.6,472.4 2014.9,471.2 2022.4,471.2 2029.9,477.4 2027.4,469.9 2023.6,458.7 2032.3,456.2 2037.3,454.9 2038.6,447.4 2049.8,441.2 2059.8,438.7 2064.8,435.0 2077.3,433.7 2084.8,430.0 2087.3,425.0 2097.3,420.0 2099.8,415.0 2102.3,417.5 2107.3,423.7 2112.3,426.2 2123.5,425.0 2129.8,427.5 2133.5,433.7 2131.0,440.0 2127.3,443.7 2121.0,447.4 2116.0,453.7 2122.3,452.4 2127.3,454.9 2131.0,452.4 2133.5,457.4 2142.3,457.4 2147.3,462.4 2157.3,463.7 2161.0,458.7 2168.5,459.9 2177.2,457.4 2179.7,464.9 2177.2,473.7 2184.7,479.9 2189.7,473.7 2194.7,476.2 2199.7,474.9 2204.7,476.2 2211.0,474.9 2212.2,467.4 2219.7,466.2 2229.7,467.4 2237.2,471.2 2242.2,474.9 2252.2,476.2 2259.7,481.2 2274.7,482.4 2278.4,492.4 2292.2,493.7 2304.6,492.4 2308.4,496.2 2310.9,489.9 2319.6,491.2 2329.6,493.7 2339.6,497.4 2349.6,502.4 2357.1,508.7 2364.6,512.4 2370.8,517.4 2374.6,522.4 2367.1,523.6 2364.6,529.9 2359.6,531.1 2352.1,527.4 2344.6,522.4 2342.1,527.4 2337.1,532.4 2339.6,539.9 2339.6,544.9 2332.1,543.6 2328.4,547.4 2319.6,549.9 2317.1,554.9 2309.6,557.4 2302.1,557.4 2294.7,559.9 2289.7,562.4 2289.2,579.9 2285.9,589.8 2279.7,597.3 2269.7,606.1 2264.7,599.8 2261.7,587.3 2263.4,574.9 2264.7,564.9 2269.7,568.6 2277.2,559.9 2284.7,552.4 2290.9,543.6 2287.2,547.4 2279.7,552.4 2274.7,549.9 2267.2,552.4 2262.2,559.9 2254.7,564.9 2247.2,562.4 2239.7,561.1 2232.2,559.9 2224.7,564.9 2219.7,572.4 2214.7,577.4 2207.2,579.9 2201.0,586.1 2199.9,585.7 2205.4,589.9 2213.3,589.9 2217.6,594.8 2218.8,600.9 2217.0,604.6 2219.4,612.5 2215.8,618.0 2212.7,624.0 2206.0,632.0 2202.4,634.4 2207.2,632.6 2209.1,637.4 2207.9,641.7 2205.4,644.1 2202.4,641.1 2199.9,638.7 2196.3,640.5 2187.8,640.5 2185.1,644.8 2182.3,648.4 2180.5,651.2 2184.2,658.5 2180.5,663.0 2180.5,669.4 2175.0,671.3 2167.7,672.2 2162.2,670.4 2156.8,669.4 2153.1,665.8 2149.4,670.4 2153.1,673.1 2154.9,676.8 2155.8,681.3 2156.8,687.7 2155.8,693.2 2153.1,696.9 2149.4,702.3 2145.8,706.0 2138.5,709.6 2131.2,712.4 2123.9,714.2 2121.1,716.0 2122.0,720.6 2116.5,724.3 2113.8,724.3 2114.7,718.8 2112.0,717.0 2108.3,718.8 2106.5,722.4 2110.2,727.9 2114.7,733.4 2116.5,744.4 2110.2,748.9 2102.8,755.0 2098.3,748.0 2091.0,742.5 2086.4,740.7 2084.6,746.2 2085.5,751.7 2089.1,757.2 2092.8,760.8 2096.4,766.3 2099.2,773.6 2095.5,775.4 2091.0,770.9 2088.2,764.5 2085.5,759.0 2082.7,754.4 2080.0,751.7 2077.3,742.4 2076.1,737.4 2071.1,731.2 2068.6,729.9 2063.6,716.2 2058.6,712.4 2052.3,713.7 2044.8,716.2 2037.3,722.4 2029.9,728.7 2024.9,732.4 2023.6,742.4 2019.9,749.9 2014.9,756.1 2010.7,750.6 2006.6,744.5 2007.7,741.4 2002.5,733.2 1999.5,724.0 1998.4,716.3 1992.3,716.3 1988.2,713.8 1987.2,709.7 1978.0,702.5 1960.0,703.2 1951.0,702.3 1947.7,697.5 1943.7,698.7 1938.8,698.7 1934.7,696.2 1931.5,694.6 1929.5,693.4 1927.4,689.3 1925.0,687.7 1921.3,687.3 1923.4,694.2 1925.8,697.9 1928.2,701.9 1929.5,700.3 1931.5,701.1 1933.1,706.8 1936.4,706.0 1938.8,705.8 1942.0,702.7 1946.5,699.5 1947.3,701.1 1948.1,706.0 1951.8,708.0 1954.6,709.2 1957.5,706.4 1960.0,704.4 1963.6,710.7 1962.6,717.9 1957.5,727.1 1953.9,734.3 1952.4,742.4 1948.8,746.0 1944.2,744.0 1941.6,738.4 1942.1,735.3 1944.7,727.3 1942.0,729.1 1938.0,729.6 1934.7,731.2 1931.5,734.4 1927.4,736.5 1923.4,737.3 1916.9,739.3 1912.0,741.7 1907.1,741.9 1905.5,740.9 1903.9,736.9 1903.1,730.4 1900.6,726.3 1896.6,722.2 1892.5,717.4 1891.7,712.5 1890.1,708.4 1885.2,705.6 1881.9,698.7 1879.5,695.4 1873.0,691.8 1870.6,688.5 1871.4,690.2 1875.0,695.8 1877.1,700.3 1880.7,709.2 1885.6,713.3 1885.6,721.4 1889.2,724.7 1890.9,729.6 1893.3,734.4 1898.2,737.7 1903.9,740.9 1905.9,742.1 1906.3,745.8 1908.7,747.4 1912.0,747.0 1918.5,745.0 1925.0,743.8 1931.5,743.0 1929.9,746.6 1929.0,749.9 1926.6,755.5 1924.6,760.0 1921.7,761.9 1913.5,770.1 1903.2,779.3 1895.0,789.9 1892.5,799.9 1895.0,809.9 1897.4,819.9 1894.7,826.4 1884.7,832.7 1879.7,838.9 1882.2,848.9 1876.0,853.9 1872.2,858.9 1871.0,866.4 1866.0,871.4 1859.7,880.1 1849.7,885.1 1834.7,887.6 1828.5,888.9 1824.8,883.9 1823.5,877.6 1816.0,868.9 1812.3,861.4 1811.0,855.2 1811.0,846.4 1804.8,837.7 1803.5,828.9 1806.0,821.4 1811.0,811.4 1808.5,802.7 1803.5,795.2 1797.3,787.7 1794.8,782.7 1797.3,770.2 1789.8,767.7 1784.8,764.0 1774.8,762.0 1764.8,764.0 1754.8,765.2 1747.3,766.0 1741.1,766.5 1729.8,761.5 1722.3,756.5 1714.8,746.5 1712.3,739.0 1712.2,734.9 1713.4,724.9 1710.9,714.9ZM1876.2,422.5 1883.7,417.5 1890.0,420.0 1891.2,427.5 1893.7,417.5 1899.9,416.2 1903.7,425.0 1907.4,428.7 1911.2,430.0 1904.9,432.5 1902.4,440.0 1899.9,449.9 1898.7,461.2 1892.5,454.9 1888.7,448.7 1887.5,442.5 1883.7,436.2 1881.2,430.0 1877.5,426.2ZM1904.9,410.0 1914.9,406.2 1923.7,410.0 1929.9,413.7 1927.4,421.2 1917.4,425.0 1909.9,420.0 1906.2,415.0ZM1911.2,435.0 1916.2,436.2 1919.9,445.0 1917.4,453.7 1911.2,451.2ZM1933.7,472.4 1939.9,459.9 1943.7,448.7 1949.9,440.0 1959.9,433.7 1969.9,430.0 1979.9,425.0 1987.4,425.0 1989.9,428.7 1984.9,432.5 1974.9,436.2 1964.9,441.2 1956.2,449.9 1949.9,459.9 1944.9,469.9 1943.7,478.7 1947.4,484.9 1942.4,486.2 1937.4,481.2 1932.4,476.2ZM1987.4,405.0 2002.4,402.0 2008.6,405.0 2002.4,412.5 1996.1,416.2 1992.4,411.2ZM1999.9,417.5 2009.9,415.0 2008.6,418.7 2001.1,420.0ZM2012.4,412.5 2022.4,408.7 2023.6,411.2 2014.9,413.7ZM2022.4,402.5 2031.1,407.5 2028.6,408.7ZM2127.3,410.0 2134.8,392.5 2142.3,398.7 2148.5,402.5 2147.3,406.2 2134.8,407.5ZM2121.0,418.7 2129.8,415.0 2133.5,417.5 2127.3,420.0ZM2134.8,421.2 2139.8,412.5 2149.8,410.0 2154.8,415.0 2159.8,417.5 2162.3,427.5 2159.8,432.5 2149.8,431.2 2142.3,427.5 2137.3,425.0ZM2162.3,442.5 2167.2,430.0 2174.7,428.7 2179.7,437.5 2178.5,441.2 2169.7,443.7ZM2098.5,407.5 2104.8,411.2 2106.0,413.7 2099.8,411.2ZM2107.3,392.5 2111.0,397.5 2109.3,398.0ZM2204.7,438.7 2209.7,433.7 2219.7,432.5 2219.7,438.7 2228.5,436.2 2228.5,446.2 2219.7,447.4 2209.7,447.4ZM2232.2,441.2 2239.7,440.0 2247.2,443.7 2248.4,448.7 2239.7,446.2ZM2255.9,432.5 2264.7,432.5 2268.4,436.2 2257.2,436.2ZM2213.5,452.4 2217.2,453.7 2214.7,454.9ZM2379.6,457.4 2384.6,454.4 2390.8,456.9 2385.8,458.7ZM2186.0,660.3 2191.5,657.6 2198.8,656.7 2205.2,655.7 2204.3,658.5 2198.8,660.3 2191.5,662.1 2189.6,664.0 2194.2,665.8 2198.8,664.0 2199.7,662.1 2198.8,666.7 2195.1,667.6 2192.4,670.4 2196.0,673.1 2198.8,676.8 2197.0,677.7 2192.4,674.9 2189.6,677.7 2186.9,676.8 2185.1,669.4 2184.2,664.0ZM2213.4,655.7 2216.1,656.7 2216.1,662.1 2214.3,664.0 2213.4,659.4ZM2155.8,680.4 2162.2,681.3 2169.5,683.2 2174.1,685.0 2171.4,686.8 2164.1,685.9 2158.6,684.1ZM2177.8,685.9 2182.3,685.0 2187.8,685.9 2193.3,685.5 2197.9,685.9 2197.0,687.7 2191.5,687.7 2186.9,689.5 2182.3,687.7 2178.7,687.4ZM2199.7,689.5 2206.1,686.8 2211.6,685.9 2207.9,688.6 2201.5,691.4ZM2207.9,670.4 2213.4,670.0 2218.9,670.4 2223.5,671.3 2223.5,672.7 2218.9,672.2 2215.2,671.6 2209.8,671.6ZM2234.4,677.7 2237.2,678.6 2236.2,680.4 2234.4,680.0ZM2223.5,663.0 2229.9,663.6 2235.3,664.0 2237.2,667.6 2240.8,667.6 2246.3,666.7 2253.6,668.5 2260.9,670.4 2266.4,673.1 2270.1,676.8 2277.4,680.4 2276.5,683.2 2281.0,687.7 2287.4,691.4 2288.3,693.2 2282.9,693.2 2277.4,690.5 2273.7,687.7 2270.1,685.9 2264.6,687.7 2260.9,688.6 2255.4,686.8 2250.0,685.9 2247.2,684.1 2247.2,678.6 2242.6,676.8 2237.2,674.0 2231.7,671.3 2228.0,668.5 2224.4,665.8ZM2281.0,677.7 2288.3,675.8 2292.0,673.1 2289.2,667.6 2292.9,668.5 2296.6,673.1 2295.6,675.8 2290.2,678.6 2284.7,678.9ZM2300.2,674.0 2302.0,674.9 2304.8,679.5 2303.0,680.4 2301.1,677.7ZM2306.6,681.3 2310.3,683.2 2308.4,684.1ZM2313.0,684.1 2319.4,687.7 2321.2,686.8 2323.1,693.2 2324.9,695.0 2321.2,692.3 2316.7,689.5 2313.9,686.8ZM2166.0,732.4 2169.7,724.9 2179.7,721.2 2189.7,719.9 2194.7,714.9 2199.7,709.9 2204.7,704.9 2212.2,701.2 2217.2,702.4 2219.7,699.9 2222.2,696.2 2229.7,694.9 2237.2,692.4 2244.7,693.7 2243.4,697.4 2242.2,702.4 2252.2,706.2 2258.4,709.9 2259.7,702.4 2260.9,694.9 2263.4,692.4 2265.9,697.4 2269.7,706.2 2272.2,712.4 2274.7,718.7 2279.7,721.2 2283.4,724.9 2287.2,727.4 2293.4,732.4 2297.1,737.4 2299.6,744.9 2298.4,752.4 2294.7,762.4 2290.9,772.4 2288.4,779.9 2279.7,784.9 2272.2,784.9 2265.9,784.9 2257.2,782.4 2252.2,777.4 2247.2,772.4 2244.7,768.6 2239.7,767.4 2232.2,763.6 2222.2,762.4 2212.2,762.4 2202.2,763.6 2192.2,766.1 2184.7,769.9 2177.2,772.4 2173.5,769.9 2174.2,762.4 2172.2,754.9 2169.7,747.4 2167.2,739.9ZM2273.4,791.1 2282.2,789.9 2284.7,796.1 2280.9,802.4 2277.2,803.6 2274.7,797.4ZM2348.4,762.4 2354.6,767.4 2359.6,772.4 2364.6,776.1 2369.6,774.9 2368.3,779.9 2363.3,786.1 2358.4,791.1 2355.9,792.4 2354.6,787.4 2357.1,781.1 2354.6,774.9 2350.9,769.9ZM2352.1,789.9 2354.6,794.9 2350.9,799.9 2347.1,804.9 2343.4,809.9 2337.1,817.4 2330.9,813.6 2329.6,809.9 2334.6,806.1 2340.9,802.4 2347.1,794.9ZM2339.6,704.9 2342.6,710.4 2340.9,711.4ZM2333.4,722.4 2339.6,725.9 2343.4,729.9 2340.9,729.4ZM2377.1,709.9 2380.1,714.9 2378.3,715.4ZM1550.2,420.0 1556.2,417.4 1563.2,415.3 1570.1,413.1 1577.0,408.8 1582.1,407.9 1589.0,406.2 1595.9,403.6 1602.9,404.9 1611.5,401.9 1616.7,405.4 1623.6,403.6 1626.2,406.7 1647.7,408.8 1651.2,411.4 1640.8,416.6 1627.0,425.2 1634.8,424.8 1627.0,431.2 1619.2,438.2 1608.9,442.5 1608.0,444.6 1601.1,447.2 1602.9,453.7 1595.9,454.5 1596.8,457.1 1590.8,458.9 1593.4,467.5 1587.3,467.5 1586.5,470.9 1578.7,470.9 1571.8,469.2 1564.0,470.1 1558.0,468.4 1560.6,464.0 1557.1,458.9 1563.2,458.0 1570.1,459.7 1564.0,454.5 1568.3,449.4 1575.2,446.8 1568.3,444.2 1565.7,438.2 1570.1,437.7 1573.5,439.9 1575.2,436.9 1580.4,435.1 1587.3,434.3 1588.2,432.1 1596.8,427.8 1592.5,428.2 1587.3,431.2 1580.4,433.0 1573.5,433.4 1564.9,432.5 1557.1,429.1 1553.7,424.3 1551.1,420.9ZM1535.5,433.0 1537.3,432.1 1545.0,424.3 1550.2,428.7 1556.2,431.2 1562.3,434.7 1563.2,439.9 1568.3,445.9 1561.4,448.5 1558.0,452.8 1550.2,453.7 1543.3,452.4 1541.1,446.8 1545.0,444.6 1537.3,441.6 1535.1,437.3ZM1520.0,446.8 1526.9,451.1 1531.2,455.4 1527.8,457.1 1520.0,453.7ZM1651.4,418.8 1663.9,417.9 1667.4,420.5 1671.0,417.9 1676.3,416.1 1685.2,417.0 1690.0,417.9 1694.7,420.0 1702.2,422.5 1697.2,415.0 1694.7,408.7 1699.7,405.0 1709.7,402.5 1719.6,398.7 1729.6,396.2 1742.1,397.0 1759.6,398.7 1774.6,402.5 1772.1,406.2 1784.6,410.0 1787.1,413.7 1774.6,416.2 1764.6,418.7 1782.1,420.0 1787.1,423.7 1797.1,423.7 1812.1,423.7 1819.6,427.5 1812.1,431.2 1799.6,433.7 1792.1,436.2 1789.6,442.5 1794.6,443.7 1793.3,448.7 1792.1,454.9 1795.8,466.2 1793.3,469.9 1790.8,477.4 1793.3,484.9 1789.6,489.9 1787.1,497.4 1784.6,504.9 1782.1,511.2 1784.6,519.9 1779.6,524.9 1782.1,527.4 1774.6,532.4 1767.1,539.9 1757.1,542.4 1747.1,546.1 1743.4,552.4 1737.1,557.4 1727.1,562.4 1723.4,564.9 1717.1,579.9 1712.2,594.8 1710.9,601.8 1704.7,597.3 1689.7,589.8 1684.7,579.9 1679.7,569.9 1675.9,559.9 1674.7,552.4 1677.2,539.9 1682.2,529.9 1674.7,524.9 1669.7,516.1 1669.7,507.4 1667.2,497.4 1663.9,489.8 1658.6,480.9 1651.4,474.7 1640.8,476.5 1626.6,473.8 1621.2,472.1 1615.9,468.5 1628.3,463.2 1617.7,462.3 1610.6,460.5 1608.8,457.0 1615.9,455.2 1624.8,452.5 1633.7,445.4 1633.7,440.1 1628.3,436.5 1635.5,431.2 1646.1,422.3Z"/><path fill="#ffffff" d="M1507.3,523.6 1512.3,517.4 1518.5,512.4 1524.8,506.2 1531.0,507.4 1532.3,512.4 1527.3,519.9 1526.0,524.9 1522.3,529.9 1527.3,528.6 1533.5,529.9 1538.5,536.1 1542.3,541.1 1549.8,544.9 1557.3,542.4 1562.3,544.9 1563.5,552.4 1559.8,559.9 1554.8,563.6 1556.0,572.4 1553.5,577.4 1549.8,572.4 1547.3,564.9 1543.5,558.6 1537.3,556.1 1532.3,557.4 1527.3,554.9 1521.0,549.9 1513.6,546.1 1511.1,539.9 1507.3,532.4ZM1798.7,582.0 1805.1,580.2 1809.7,583.9 1817.0,576.6 1820.6,569.2 1820.6,563.8 1826.1,561.9 1828.9,558.3 1822.5,551.0 1824.3,543.7 1834.3,543.7 1835.3,554.6 1840.7,560.1 1846.2,559.2 1841.7,563.8 1843.5,573.8 1839.8,572.0 1835.3,574.7 1834.3,583.9 1829.8,587.5 1820.6,587.5 1812.4,591.2 1806.0,589.4 1799.6,588.4ZM2144.0,657.6 2153.1,649.3 2155.8,650.3 2154.9,654.8 2160.4,653.9 2156.8,656.7 2151.3,660.3 2148.5,662.1ZM1838.0,521.5 1843.9,520.8 1847.9,524.1 1845.9,528.1 1841.9,524.8ZM1831.4,536.6 1834.7,529.4 1836.0,530.1 1835.7,537.0ZM1612.6,565.3 1616.4,559.2 1621.0,558.4 1617.9,563.0ZM1555.5,518.1 1559.3,517.3 1560.8,529.5 1557.8,530.3Z"/><path d="M1526.5,524.2 1531.1,512.7 1536.4,512.7 1531.9,525.7ZM1521.2,528.7 1529.6,527.2 1535.7,525.7 1535.7,530.3 1526.5,532.5 1521.2,531.8Z"/></g>
<ellipse cx="1479.2" cy="604.5" rx="56" ry="49.3" fill="#939152"/>
<line x1="1480.5" y1="612" x2="1480.5" y2="722" stroke="#a9d18e" stroke-width="3" stroke-dasharray="9 4"/>
<circle cx="1480.5" cy="612.3" r="6" fill="#9dc183"/>
<ellipse cx="2075.9" cy="661.4" rx="57" ry="49.5" fill="#7f7a90"/>
<line x1="2076.6" y1="677" x2="2076.6" y2="779" stroke="#bfbfbf" stroke-width="3" stroke-dasharray="9 4"/>
<circle cx="2076.6" cy="677.4" r="6" fill="#a5a5a5"/>
<text x="1391.5" y="749.4" font-family='"Liberation Sans", sans-serif' font-size="21.3" font-weight="bold" fill="#44546a" textLength="156.8" lengthAdjust="spacingAndGlyphs">North America</text>
<text x="1437.7" y="777.8" font-family='"Liberation Sans", sans-serif' font-size="22" font-weight="normal" fill="#44546a" textLength="64.4" lengthAdjust="spacingAndGlyphs">25.8%</text>
<text x="2009.4" y="814.4" font-family='"Liberation Sans", sans-serif' font-size="21.3" font-weight="bold" fill="#44546a" textLength="131.4" lengthAdjust="spacingAndGlyphs">Asia Pacific</text>
<text x="2042.4" y="842.9" font-family='"Liberation Sans", sans-serif' font-size="22" font-weight="normal" fill="#44546a" textLength="65.4" lengthAdjust="spacingAndGlyphs">44.6%</text></svg>
</body></html>
